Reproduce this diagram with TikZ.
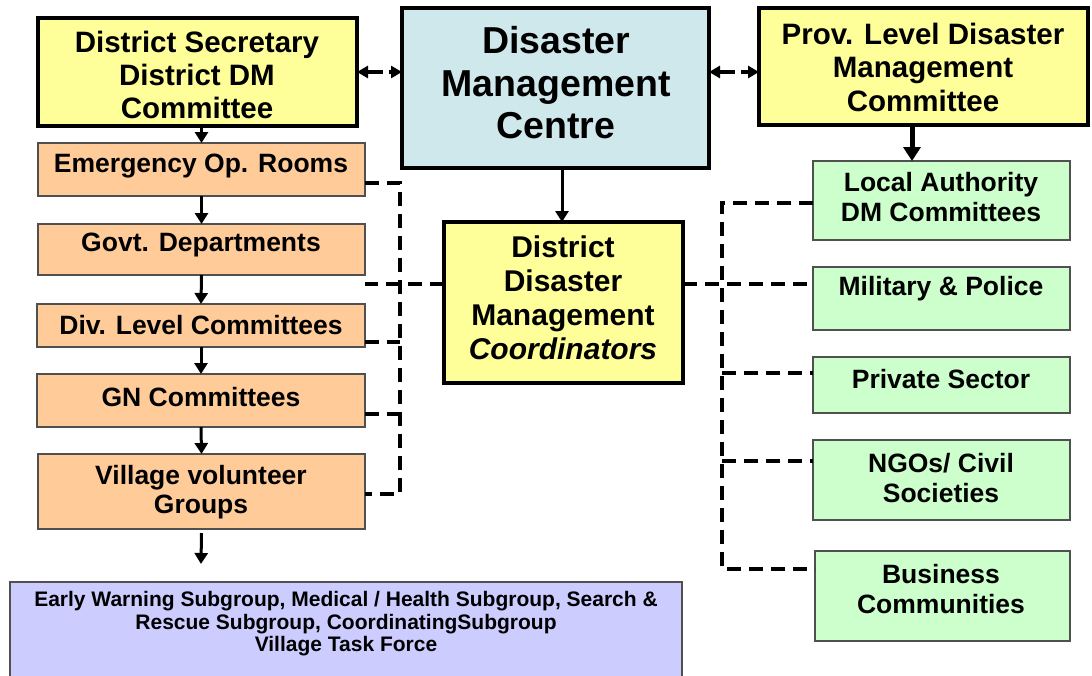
\documentclass[tikz,border=0pt]{standalone}
\usepackage{fontspec}
\setmainfont{Liberation Sans}
\usetikzlibrary{arrows.meta}
\definecolor{ylw}{HTML}{FFFF99}
\definecolor{dmcblue}{HTML}{CFE8EC}
\definecolor{org}{HTML}{FFCC99}
\definecolor{grn}{HTML}{CCFFCC}
\definecolor{vio}{HTML}{CCCCFF}
\definecolor{edgegray}{HTML}{505050}
\begin{document}
\begin{tikzpicture}[x=1pt,y=-1pt,
  boxbase/.style={rectangle, inner sep=0pt, outer sep=0pt, anchor=north west},
  bigbox/.style={boxbase, draw=black, line width=3.6pt},
  orgbox/.style={boxbase, draw=edgegray, line width=2pt, fill=org},
  grnbox/.style={boxbase, draw=edgegray, line width=2pt, fill=grn},
  viobox/.style={boxbase, draw=edgegray, line width=1.5pt, fill=vio},
  txt/.style={inner sep=0pt, align=center, font=\bfseries},
  arr/.style={line width=3pt, -{Triangle[length=11pt,width=13pt]}},
  arrthick/.style={line width=5pt, -{Triangle[length=14pt,width=17pt]}},
  dashln/.style={line width=4pt, dash pattern=on 14pt off 8pt},
  dblarr/.style={line width=3.6pt, dash pattern=on 16pt off 6pt, {Triangle[length=11pt,width=12pt]}-{Triangle[length=11pt,width=12pt]}},
]
\useasboundingbox (0,0) rectangle (1092,675);

% ---- top row
\node[bigbox, fill=ylw, minimum width=319pt, minimum height=108pt] (ds) at (38,18) {};
\node[txt, font=\fontsize{29.5}{33}\selectfont\bfseries] (ds-t) at (197,75) {District Secretary\\District DM\\Committee};

\node[bigbox, fill=dmcblue, minimum width=307pt, minimum height=160pt] (dmc) at (402,8) {};
\node[txt, font=\fontsize{37.5}{42.5}\selectfont\bfseries] (dmc-t) at (556,83) {Disaster\\Management\\Centre};

\node[bigbox, fill=ylw, minimum width=329pt, minimum height=117pt] (prov) at (759,8) {};
\node[txt, font=\fontsize{29.5}{33.5}\selectfont\bfseries] (prov-t) at (923,67) {Prov. Level Disaster\\Management\\Committee};

% ---- centre coordinators
\node[bigbox, fill=ylw, minimum width=239pt, minimum height=161pt] (ddmc) at (444,222) {};
\node[txt, font=\fontsize{30}{34}\selectfont\bfseries] (ddmc-t) at (563,298) {District\\Disaster\\Management\\\textit{Coordinators}};

% ---- left column
\node[orgbox, minimum width=327pt, minimum height=53pt] (eor) at (38,143) {};
\node[txt, font=\fontsize{26.5}{29}\selectfont\bfseries] (eor-t) at (201,166) {Emergency Op. Rooms};

\node[orgbox, minimum width=327pt, minimum height=51pt] (gov) at (38,224) {};
\node[txt, font=\fontsize{26.5}{29}\selectfont\bfseries] (gov-t) at (201,245) {Govt. Departments};

\node[orgbox, minimum width=328pt, minimum height=43pt] (div) at (37,304) {};
\node[txt, font=\fontsize{26.5}{29}\selectfont\bfseries] (div-t) at (201,325) {Div. Level Committees};

\node[orgbox, minimum width=328pt, minimum height=53pt] (gn) at (37,374) {};
\node[txt, font=\fontsize{26.5}{29}\selectfont\bfseries] (gn-t) at (201,397) {GN Committees};

\node[orgbox, minimum width=327pt, minimum height=75pt] (vvg) at (38,454) {};
\node[txt, font=\fontsize{26.5}{29}\selectfont\bfseries] (vvg-t) at (201,492) {Village volunteer\\Groups};

\node[viobox, minimum width=672pt, minimum height=100pt] (vtf) at (10,582) {};
\node[txt, font=\fontsize{21}{22.5}\selectfont\bfseries] (vtf-t) at (346,624) {Early Warning Subgroup, Medical / Health Subgroup, Search \&\\Rescue Subgroup, CoordinatingSubgroup\\Village Task Force};

% ---- right column
\node[grnbox, minimum width=257pt, minimum height=79pt] (la) at (813,161) {};
\node[txt, font=\fontsize{26.5}{30}\selectfont\bfseries] (la-t) at (941,197) {Local Authority\\DM Committees};

\node[grnbox, minimum width=257pt, minimum height=63pt] (mp) at (813,267) {};
\node[txt, font=\fontsize{26.5}{30}\selectfont\bfseries] (mp-t) at (941,289) {Military \& Police};

\node[grnbox, minimum width=257pt, minimum height=56pt] (ps) at (813,357) {};
\node[txt, font=\fontsize{26.5}{30}\selectfont\bfseries] (ps-t) at (941,379) {Private Sector};

\node[grnbox, minimum width=257pt, minimum height=80pt] (ngo) at (813,440) {};
\node[txt, font=\fontsize{26.5}{30}\selectfont\bfseries] (ngo-t) at (941,478) {NGOs/ Civil\\Societies};

\node[grnbox, minimum width=255pt, minimum height=90pt] (bc) at (815,551) {};
\node[txt, font=\fontsize{26.5}{30}\selectfont\bfseries] (bc-t) at (941,589) {Business\\Communities};

% ---- coordinates for free ends
\coordinate (lv-top) at (400,183);
\coordinate (lv-bot) at (400,494);
\coordinate (lv-div) at (400,342);
\coordinate (lv-gn) at (400,414);
\coordinate (rv-top) at (722,203);
\coordinate (rv-bot) at (722,569);
\coordinate (rv-ps) at (722,373);
\coordinate (rv-ngo) at (722,461);
\coordinate (vend) at (201,564);

% ---- double arrows at top
\draw[dblarr] (ds.east |- 0,72) -- (dmc.west |- 0,72);
\draw[dblarr] (dmc.east |- 0,72) -- (prov.west |- 0,72);

% ---- solid arrows
\draw[arr] (eor.north |- ds.south) -- (eor.north);
\draw[arr] (eor.south) -- (gov.north);
\draw[arr] (gov.south) -- (div.north);
\draw[arr] (div.south) -- (gn.north);
\draw[arr] (gn.south) -- (vvg.north);
\draw[arr] ([yshift=-4pt]vvg.south) -- (vend);
\draw[arr] (dmc.south -| 562,0) -- (ddmc.north -| 562,0);
\draw[arrthick] (prov.south -| 912,0) -- (la.north -| 912,0);

% ---- dashed links, left
\draw[dashln] (eor.east |- lv-top) -- (lv-top) -- (lv-bot) -- (vvg.east |- lv-bot);
\draw[dashln] (div.east |- lv-div) -- (lv-div);
\draw[dashln] (gn.east |- lv-gn) -- (lv-gn);
\draw[dashln] (ddmc.west |- 0,284) -- (gov.east |- 0,284);

% ---- dashed links, right
\draw[dashln] (la.west |- rv-top) -- (rv-top) -- (rv-bot) -- (bc.west |- rv-bot);
\draw[dashln] (ddmc.east |- 0,284) -- (mp.west |- 0,284);
\draw[dashln] (rv-ps) -- (ps.west |- rv-ps);
\draw[dashln] (rv-ngo) -- (ngo.west |- rv-ngo);
\end{tikzpicture}
\end{document}
